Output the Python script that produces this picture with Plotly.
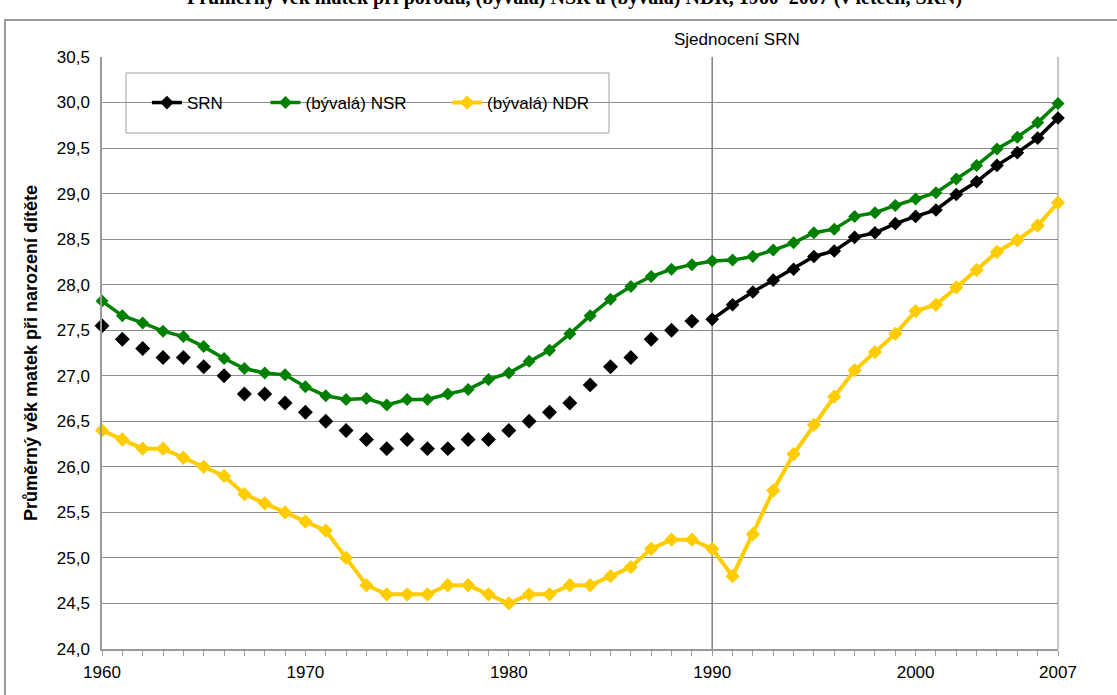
import plotly.graph_objects as go

years = list(range(1960, 2008))

srn = [27.55, 27.40, 27.30, 27.20, 27.20, 27.10, 27.00, 26.80, 26.80, 26.70,
       26.60, 26.50, 26.40, 26.30, 26.20, 26.30, 26.20, 26.20, 26.30, 26.30,
       26.40, 26.50, 26.60, 26.70, 26.90, 27.10, 27.20, 27.40, 27.50, 27.60,
       27.62, 27.78, 27.92, 28.05, 28.17, 28.31, 28.37, 28.52, 28.57, 28.67,
       28.75, 28.82, 28.99, 29.13, 29.31, 29.45, 29.61, 29.83]

nsr = [27.82, 27.66, 27.58, 27.49, 27.43, 27.32, 27.19, 27.08, 27.03, 27.01,
       26.88, 26.78, 26.74, 26.75, 26.68, 26.74, 26.74, 26.80, 26.85, 26.96,
       27.03, 27.16, 27.28, 27.46, 27.66, 27.84, 27.98, 28.09, 28.17, 28.22,
       28.26, 28.27, 28.31, 28.38, 28.46, 28.57, 28.61, 28.75, 28.79, 28.87,
       28.94, 29.01, 29.16, 29.31, 29.49, 29.62, 29.78, 29.99]

ndr = [26.4, 26.3, 26.2, 26.2, 26.1, 26.0, 25.9, 25.7, 25.6, 25.5,
       25.4, 25.3, 25.0, 24.7, 24.6, 24.6, 24.6, 24.7, 24.7, 24.6,
       24.5, 24.6, 24.6, 24.7, 24.7, 24.8, 24.9, 25.1, 25.2, 25.2,
       25.1, 24.8, 25.26, 25.74, 26.14, 26.46, 26.77, 27.06, 27.26, 27.46,
       27.71, 27.78, 27.97, 28.16, 28.36, 28.49, 28.65, 28.90]

series_names = ["SRN", "(bývalá) NSR", "(bývalá) NDR"]
label_years = [1960, 1970, 1980, 1990, 2000, 2007]
unification_year = 1990
unification_label = "Sjednocení SRN"
y_title = "Průměrný věk matek při narození dítěte"
top_text = "Průměrný věk matek při porodu, (bývalá) NSR a (bývalá) NDR, 1960–2007 (v letech, SRN)"

FONT = "Arial, 'Liberation Sans', sans-serif"
BLACK = "#000000"
GREEN = "#008000"
YELLOW = "#FFCC00"

split = years.index(unification_year)

fig = go.Figure()

# SRN before unification: markers only
fig.add_trace(go.Scatter(
    x=years[:split], y=srn[:split], mode="markers", showlegend=False,
    marker=dict(symbol="diamond", size=11.5, color=BLACK),
    cliponaxis=False, hoverinfo="x+y", name=series_names[0]))

fig.add_trace(go.Scatter(
    x=years, y=ndr, mode="lines+markers", name=series_names[2],
    line=dict(color=YELLOW, width=4),
    marker=dict(symbol="diamond", size=11, color=YELLOW),
    cliponaxis=False, legend="legend3"))

fig.add_trace(go.Scatter(
    x=years, y=nsr, mode="lines+markers", name=series_names[1],
    line=dict(color=GREEN, width=3.5),
    marker=dict(symbol="diamond", size=10, color=GREEN),
    cliponaxis=False, legend="legend2"))

fig.add_trace(go.Scatter(
    x=years[split:], y=srn[split:], mode="lines+markers", name=series_names[0],
    line=dict(color=BLACK, width=3.5),
    marker=dict(symbol="diamond", size=10.5, color=BLACK),
    cliponaxis=False, legend="legend"))

ticktext = [str(y) if y in label_years else "" for y in years]

fig.update_xaxes(
    range=[1960, 2007], tickmode="array", tickvals=years, ticktext=ticktext,
    ticks="outside", ticklen=5, tickcolor="#999999", tickwidth=1,
    showline=True, linecolor="#999999", linewidth=1.5,
    mirror=False, showgrid=False, zeroline=False,
    tickfont=dict(family=FONT, size=17, color="#000000"),
    ticklabelstandoff=2,
    automargin=False)

fig.update_yaxes(
    range=[24.0, 30.5], dtick=0.5, tick0=24.0, tickformat=".1f",
    ticks="", showline=True, linecolor="#999999", linewidth=1.5,
    showgrid=True, gridcolor="#8c8c8c", gridwidth=1, zeroline=False,
    tickfont=dict(family=FONT, size=17, color="#000000"),
    ticklabelstandoff=7,
    title=dict(text=y_title, font=dict(family=FONT, size=18, color="#000000",
                                       weight="bold"), standoff=14),
    automargin=False)

legend_common = dict(orientation="h", xanchor="left", yanchor="middle",
                     bgcolor="rgba(0,0,0,0)", borderwidth=0,
                     font=dict(family=FONT, size=17, color="#000000"))

fig.update_layout(
    width=1117, height=695,
    margin=dict(l=102, r=59, t=57, b=46),
    paper_bgcolor="#ffffff", plot_bgcolor="#ffffff",
    separators=", ",
    font=dict(family=FONT, color="#000000"),
    legend=dict(x=0.047, y=0.9223, **legend_common),
    legend2=dict(x=0.171, y=0.9223, **legend_common),
    legend3=dict(x=0.361, y=0.9223, **legend_common),
    shapes=[
        # plot area right edge
        dict(type="line", xref="paper", yref="paper", x0=1, x1=1, y0=0, y1=1,
             line=dict(color="#b4b4b4", width=1.5), layer="between"),
        # unification line
        dict(type="line", xref="x", yref="paper", x0=unification_year,
             x1=unification_year, y0=0, y1=1,
             line=dict(color="#808080", width=1.5), layer="between"),
        # legend box
        dict(type="rect", xref="paper", yref="paper",
             x0=(126 - 102) / 956, x1=(609 - 102) / 956,
             y0=(649 - 133) / 592, y1=(649 - 73) / 592,
             fillcolor="#ffffff", line=dict(color="#a0a0a0", width=1),
             layer="between"),
        # outer chart frame
        dict(type="rect", xref="paper", yref="paper",
             x0=(5 - 102) / 956, x1=(1130 - 102) / 956,
             y0=(649 - 720) / 592, y1=(649 - 20) / 592,
             fillcolor="rgba(0,0,0,0)", line=dict(color="#9a9a9a", width=2),
             layer="below"),
    ],
    annotations=[
        dict(text=unification_label, xref="x", yref="paper",
             x=unification_year, xshift=25, y=(649 - 40) / 592,
             showarrow=False, xanchor="center", yanchor="middle",
             font=dict(family=FONT, size=17, color="#000000")),
        dict(text=top_text, xref="paper", yref="paper",
             x=(185 - 102) / 956, y=(649 + 3) / 592,
             showarrow=False, xanchor="left", yanchor="middle",
             font=dict(family="'Liberation Serif', 'Times New Roman', serif",
                       size=20, color="#000000", weight="bold")),
    ],
)

fig.write_html("out.html", config={"displayModeBar": False},
               post_script="document.body.style.margin='0';")
